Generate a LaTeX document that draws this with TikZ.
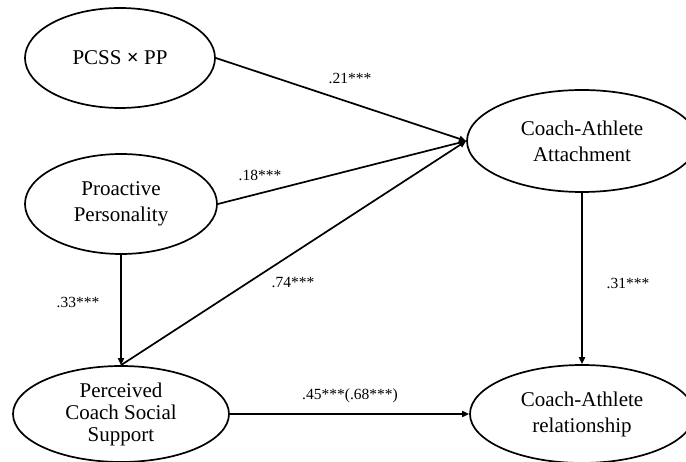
\documentclass[tikz,border=0pt]{standalone}
\usepackage{fontspec}
\setmainfont{Liberation Serif}
\usetikzlibrary{shapes.geometric,arrows.meta}
\begin{document}
\begin{tikzpicture}[x=1pt,y=-1pt,
  ell/.style={draw,ellipse,line width=1.7pt,inner sep=0pt,align=center,font=\fontsize{21}{26}\selectfont},
  arr/.style={line width=1.7pt,-{Triangle[length=7pt,width=6pt]}},
  lab/.style={font=\fontsize{15.5}{18}\selectfont,inner sep=0pt}]
\useasboundingbox (0,0) rectangle (686,462);
\node[ell,minimum width=190pt,minimum height=100pt] (pcss) at (120,58) {PCSS \textbf{×} PP};
\node[ell,minimum width=192pt,minimum height=100pt] (pp) at (121,204) {Proactive\\Personality};
\node[ell,minimum width=216pt,minimum height=96pt,font=\fontsize{21}{22}\selectfont] (pcs) at (121,414) {Perceived\\Coach Social\\Support};
\node[ell,minimum width=230pt,minimum height=102pt] (caa) at (582,141) {Coach-Athlete\\Attachment};
\node[ell,minimum width=224pt,minimum height=98pt] (car) at (582,414) {Coach-Athlete\\relationship};
\coordinate (hub) at (caa.west);
\draw[arr] (pcss.east) -- (hub);
\draw[arr] (pp.east) -- (hub);
\draw[arr] (pcs.north) -- (hub);
\draw[arr] (pp.south) -- (pcs.north);
\draw[arr] (caa.south) -- (car.north);
\draw[arr] (pcs.east) -- (car.west);
\node[lab] (l1) at (350,78) {.21***};
\node[lab] (l2) at (260,175) {.18***};
\node[lab] (l3) at (293,283) {.74***};
\node[lab] (l4) at (78,302) {.33***};
\node[lab] (l5) at (628,283) {.31***};
\node[lab] (l6) at (350,396) {.45***(.68***)};
\end{tikzpicture}
\end{document}
